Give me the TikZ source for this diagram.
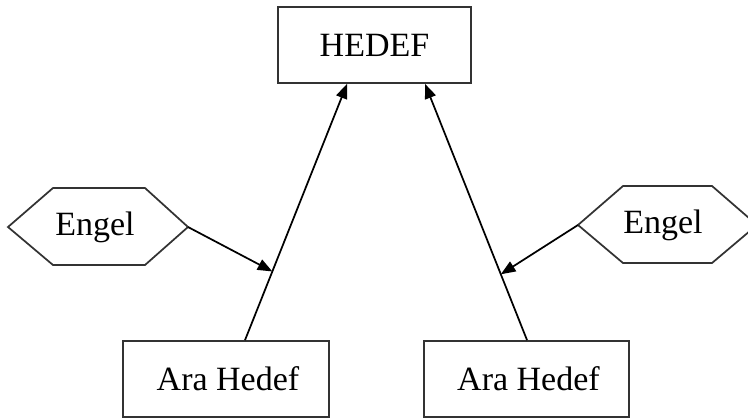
\documentclass[tikz,border=0pt]{standalone}
\usepackage{fontspec}
\setmainfont{Liberation Serif}
\usetikzlibrary{arrows.meta}
\definecolor{edge}{HTML}{333333}
\begin{document}
\begin{tikzpicture}[x=0.75pt,y=-0.75pt,
  goal/.style={draw=edge, line width=1.3pt, inner sep=0pt, minimum height=57pt,
    font=\fontsize{25.5}{30}\selectfont},
  hexa/.style={draw=edge, line width=1.3pt, line join=miter},
  tag/.style={inner sep=0pt, font=\fontsize{25.5}{30}\selectfont},
  link/.style={line width=1.3pt, -{Triangle[length=11pt,width=8.5pt]}}
]
\useasboundingbox (0,0) rectangle (748,419);
\clip (0,0) rectangle (748,419);

% goal boxes
\node[goal, minimum width=144.75pt] (hedef) at (374.5,45) {HEDEF};
\node[goal, minimum width=154.5pt] (araL) at (226,379) {\hspace*{3pt}Ara Hedef};
\node[goal, minimum width=153.75pt] (araR) at (526.5,379) {\hspace*{3pt}Ara Hedef};

% ends of the two main arrows
\coordinate (startL) at ([xshift=14.25pt]araL.north);
\coordinate (endL) at ([xshift=-20.6pt]hedef.south);
\coordinate (startR) at ([xshift=0.4pt]araR.north);
\coordinate (endR) at ([xshift=37.9pt]hedef.south);

\draw[link] (startL) -- (endL);
\draw[link] (startR) -- (endR);

% points where the obstacles hit the arrows
\path (startL) -- (endL) coordinate[pos=0.268] (hitL);
\path (startR) -- (endR) coordinate[pos=0.257] (hitR);

% obstacle hexagons
\draw[hexa] (8,227) -- (53,188) -- (145,188) -- (188,227) -- (145,265) -- (53,265) -- cycle;
\coordinate (engLtip) at (188,227);
\node[tag] (engL) at (95,227) {Engel};

\draw[hexa] (578,225) -- (623,186) -- (712,186) -- (757,225) -- (712,263) -- (623,263) -- cycle;
\coordinate (engRtip) at (578,225);
\node[tag] (engR) at (663,225) {Engel};

\draw[link] (engLtip) -- (hitL);
\draw[link] (engRtip) -- (hitR);
\end{tikzpicture}
\end{document}
